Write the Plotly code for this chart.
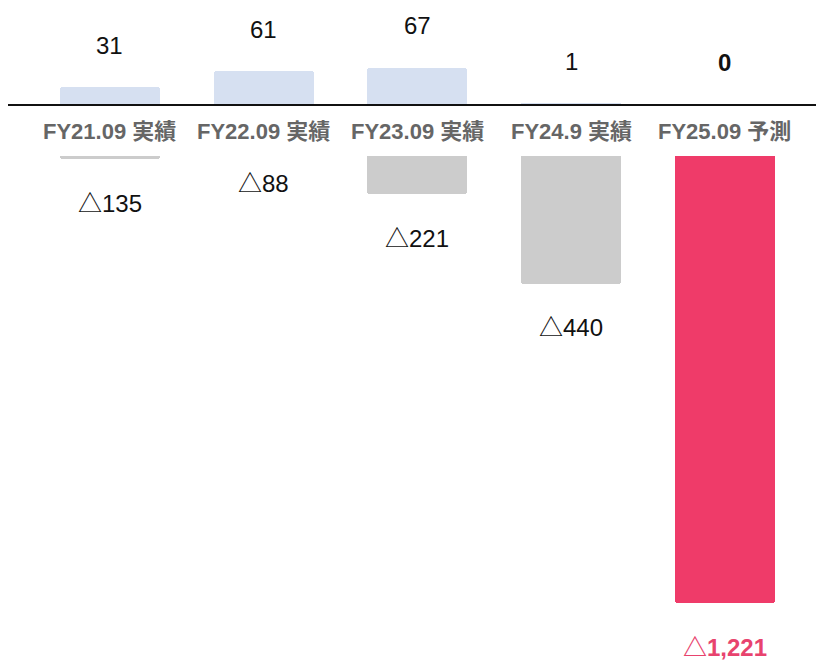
import plotly.graph_objects as go

categories = ["FY21.09 実績", "FY22.09 実績", "FY23.09 実績", "FY24.9 実績", "FY25.09 予測"]
positive_values = [31, 61, 67, 1, 0]
negative_values = [-135, -88, -221, -440, -1221]
positive_labels = ["31", "61", "67", "1", "<b>0</b>"]
negative_labels = ["△135", "△88", "△221", "△440", "<b>△1,221</b>"]
negative_colors = ["#CCCCCC", "#CCCCCC", "#CCCCCC", "#CCCCCC", "#EF3B69"]
negative_label_colors = ["#111111", "#111111", "#111111", "#111111", "#E8436E"]

FONT = "Liberation Sans, Arial, Noto Sans CJK JP, sans-serif"
W, H = 816, 660

fig = go.Figure()
fig.add_trace(go.Bar(
    x=categories, y=positive_values, width=0.65,
    marker=dict(color="#D6E0F1", cornerradius=3, line=dict(width=0)),
    xaxis="x", yaxis="y", hoverinfo="skip",
))
fig.add_trace(go.Bar(
    x=categories, y=negative_values, width=0.65,
    marker=dict(color=negative_colors, cornerradius=3, line=dict(width=0)),
    xaxis="x2", yaxis="y2", hoverinfo="skip",
))

annotations = []
for c, v, t in zip(categories, positive_values, positive_labels):
    annotations.append(dict(x=c, y=v, xref="x", yref="y", text=t, showarrow=False,
                            yshift=42, yanchor="middle",
                            font=dict(family=FONT, size=24, color="#111111")))
for c, v, t, col in zip(categories, negative_values, negative_labels, negative_label_colors):
    annotations.append(dict(x=c, y=v, xref="x2", yref="y2", text=t, showarrow=False,
                            yshift=-44, yanchor="middle",
                            font=dict(family=FONT, size=24, color=col)))
for c in categories:
    annotations.append(dict(x=c, y=(H - 131) / H, xref="x", yref="paper", text="<b>" + c + "</b>",
                            showarrow=False, yanchor="middle",
                            font=dict(family=FONT, size=22, color="#666666")))

baseline_px = 104
pos_scale = 0.54
neg_scale = 0.4087
band_bottom_px = 156

xdom = [(110 - 76.875) / W, (110 + 4 * 153.75 + 76.875) / W]

fig.update_layout(
    width=W, height=H,
    margin=dict(l=0, r=0, t=0, b=0),
    paper_bgcolor="white", plot_bgcolor="rgba(0,0,0,0)",
    showlegend=False, bargap=0,
    xaxis=dict(domain=xdom, range=[-0.5, 4.5], showticklabels=False, showgrid=False,
               zeroline=False, showline=False, fixedrange=True),
    xaxis2=dict(domain=xdom, range=[-0.5, 4.5], showticklabels=False, showgrid=False,
                zeroline=False, showline=False, anchor="y2", matches="x", fixedrange=True),
    yaxis=dict(domain=[(H - baseline_px) / H, 1], range=[0, baseline_px / pos_scale],
               visible=False, fixedrange=True),
    yaxis2=dict(domain=[0, (H - baseline_px) / H],
                range=[-(H - baseline_px) / neg_scale, 0],
                visible=False, anchor="x2", fixedrange=True),
    annotations=annotations,
    shapes=[
        dict(type="rect", xref="paper", yref="paper", x0=0, x1=1,
             y0=(H - band_bottom_px) / H, y1=(H - baseline_px) / H,
             fillcolor="white", line=dict(width=0), layer="above"),
        dict(type="line", xref="paper", yref="paper", x0=8 / W, x1=1,
             y0=(H - baseline_px - 1) / H, y1=(H - baseline_px - 1) / H,
             line=dict(color="#111111", width=2), layer="above"),
    ],
)

fig.write_html("out.html", config={"displayModeBar": False},
               post_script="document.body.style.margin='0';document.body.style.overflow='hidden';")
